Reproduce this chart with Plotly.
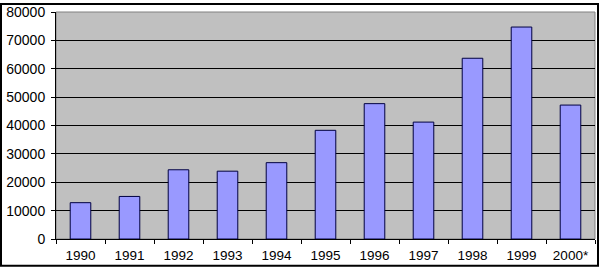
import plotly.graph_objects as go

years = ["1990", "1991", "1992", "1993", "1994", "1995", "1996", "1997", "1998", "1999", "2000*"]
values = [12800, 15000, 24400, 23900, 26900, 38300, 47700, 41200, 63700, 74700, 47200]
y_ticks = [0, 10000, 20000, 30000, 40000, 50000, 60000, 70000, 80000]

W, H = 599, 267
ml, mr, mt, mb = 56, 4, 9, 28
pw, ph = W - ml - mr, H - mt - mb

fig = go.Figure(go.Bar(
    x=years, y=values,
    marker=dict(color="#9999ff", line=dict(color="#000040", width=1)),
    width=0.42,
))

fig.update_layout(
    width=W, height=H,
    margin=dict(l=ml, r=mr, t=mt, b=mb, pad=0),
    paper_bgcolor="white",
    plot_bgcolor="#c0c0c0",
    showlegend=False,
    font=dict(family="Liberation Sans, Arial, sans-serif", size=13, color="black"),
    xaxis=dict(
        type="category", tickson="boundaries", ticks="outside", ticklen=4,
        tickcolor="black", showgrid=False, showline=True, linecolor="black",
        linewidth=1, tickfont=dict(size=13.5), ticklabelstandoff=4,
    ),
    yaxis=dict(
        range=[0, 80000], tickvals=y_ticks, ticktext=[str(v) for v in y_ticks],
        ticks="outside", ticklen=4, tickcolor="black", showgrid=True,
        gridcolor="black", gridwidth=1, showline=True, linecolor="black",
        linewidth=1, zeroline=False, tickfont=dict(size=14), ticklabelstandoff=3,
    ),
    shapes=[
        dict(type="rect", xref="paper", yref="paper", x0=0, x1=1, y0=0, y1=1,
             line=dict(color="#808080", width=1), layer="below"),
        dict(type="rect", xref="paper", yref="paper",
             x0=-(ml - 1) / pw, x1=1 + (mr - 1) / pw,
             y0=-(mb - 1) / ph, y1=1 + (mt - 1) / ph,
             line=dict(color="black", width=2)),
    ],
)

fig.write_html("out.html")
